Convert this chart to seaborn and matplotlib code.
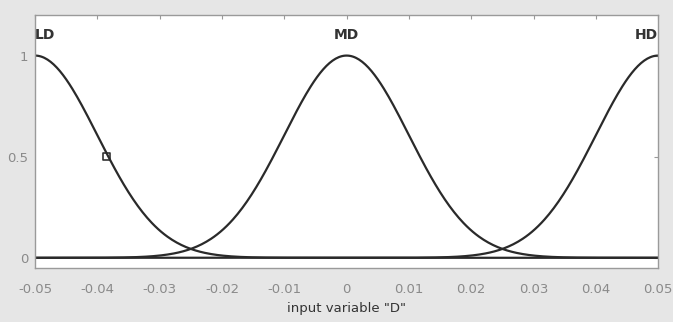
import numpy as np
import pandas as pd
import matplotlib
matplotlib.use("Agg")
import matplotlib.pyplot as plt
import seaborn as sns

# membership function parameters (gaussmf)
mf_names = ["LD", "MD", "HD"]
mf_centers = [-0.05, 0.0, 0.05]
mf_sigmas = [0.0100, 0.0100, 0.0100]
x_ticks = [-0.05, -0.04, -0.03, -0.02, -0.01, 0, 0.01, 0.02, 0.03, 0.04, 0.05]
x_tick_labels = ["-0.05", "-0.04", "-0.03", "-0.02", "-0.01", "0", "0.01", "0.02", "0.03", "0.04", "0.05"]
y_ticks = [0, 0.5, 1]
y_tick_labels = ["0", "0.5", "1"]
marker_x = [-0.0385]
marker_y = [0.5]

sns.set_style("white")
plt.rcParams["font.family"] = ["DejaVu Sans"]

fig = plt.figure(figsize=(6.73, 3.22), dpi=100)
fig.patch.set_facecolor("#e6e6e6")
ax = fig.add_axes([0.052, 0.168, 0.926, 0.785])
ax.set_facecolor("white")

xs = np.linspace(-0.05, 0.05, 401)
rows = []
for name, c, s in zip(mf_names, mf_centers, mf_sigmas):
    for xv in xs:
        rows.append({"x": xv, "mu": np.exp(-(xv - c) ** 2 / (2 * s ** 2)), "mf": name})
df = pd.DataFrame(rows)

sns.lineplot(data=df, x="x", y="mu", units="mf", estimator=None, color="#2a2a2a",
             linewidth=1.6, ax=ax, legend=False)
sns.scatterplot(x=marker_x, y=marker_y, marker="s", s=30, facecolor="none",
                edgecolor="#333333", linewidth=1.2, ax=ax)

for name, c in zip(mf_names, mf_centers):
    ha = "center"
    if c <= -0.05:
        ha = "left"
    elif c >= 0.05:
        ha = "right"
    ax.text(c, 1.1, name, ha=ha, va="center", fontsize=10, color="#333333", fontweight="bold")

ax.set_xlim(-0.05, 0.05)
ax.set_ylim(-0.05, 1.2)
ax.set_xticks(x_ticks)
ax.set_xticklabels(x_tick_labels)
ax.set_yticks(y_ticks)
ax.set_yticklabels(y_tick_labels)
ax.tick_params(direction="in", length=3, width=0.8, color="#999999", labelcolor="#8a8a8a",
               labelsize=9.5, top=True, right=True)
ax.tick_params(axis="x", pad=11)
ax.tick_params(axis="y", pad=5)
ax.set_xlabel('input variable "D"', fontsize=9.5, color="#333333", labelpad=4)
ax.set_ylabel("")
for sp in ax.spines.values():
    sp.set_color("#9a9a9a")
    sp.set_linewidth(1.0)

fig.savefig("out.png", dpi=100, facecolor=fig.get_facecolor())
